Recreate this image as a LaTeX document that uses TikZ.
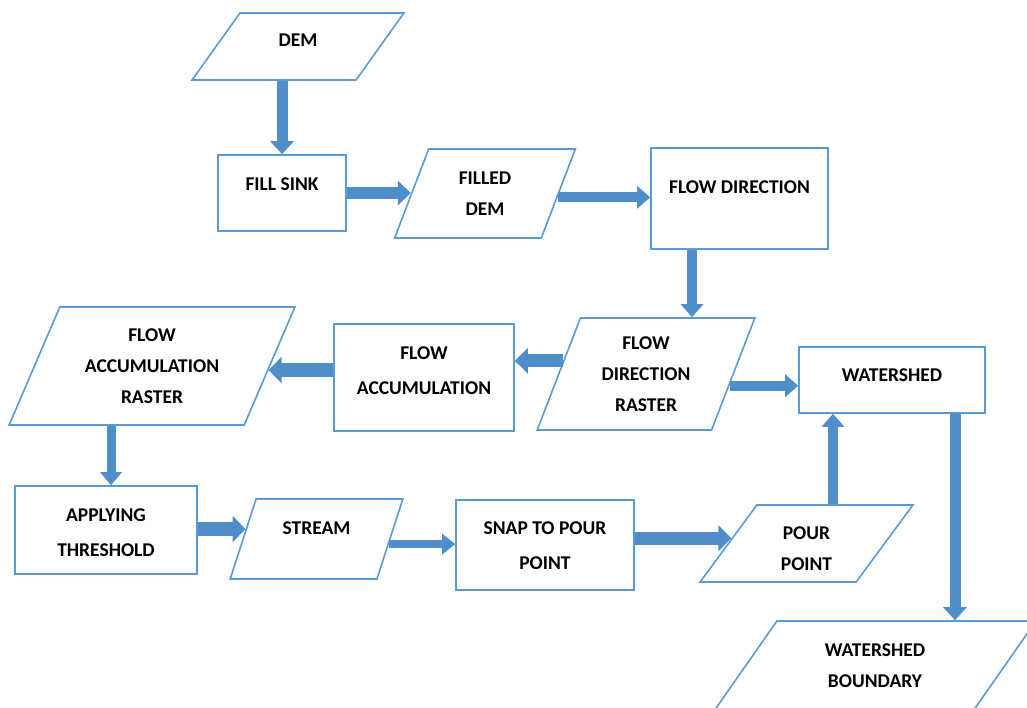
\documentclass[tikz,border=0pt]{standalone}
\usepackage{fontspec}
\setmainfont{Carlito}
\usetikzlibrary{arrows.meta,shapes.geometric}

\definecolor{boxblue}{HTML}{5B9BD5}
\definecolor{arrowblue}{HTML}{4F8DCB}

\begin{document}
\begin{tikzpicture}[
            x = 1pt, y = -1pt, % one unit per pixel, y pointing down
            every node/.style = {font=\bfseries\fontsize{19.5}{31}\selectfont, align=center, inner sep=0pt},
            proc/.style = {rectangle, draw=boxblue, line width=1.6pt, font=\bfseries\fontsize{19.5}{35}\selectfont},
            io/.style = {trapezium, trapezium stretches, trapezium left angle=#1,
                         trapezium right angle={180-#1}, draw=boxblue, line width=1.6pt},
            flow/.style = {draw=arrowblue, line width=#1, -{Triangle[length=13pt,width=12pt 1]}},
            lift/.style = {text depth=#1}, % label sits above the middle
            drop/.style = {text height=#1} % label sits below the middle
        ]

	\path[use as bounding box, clip] (0,0) rectangle (1027,707);

	\node[io=57, minimum width=212pt, minimum height=67pt, lift=12pt] (dem) at (298,46.5) {DEM};
	\node[proc, minimum width=128pt, minimum height=76pt, lift=18pt] (fill) at (282,193) {FILL SINK};
	\node[io=70, minimum width=182pt, minimum height=89pt] (filled) at (485,193.5) {FILLED\\DEM};
	\node[proc, minimum width=177pt, minimum height=101pt, lift=22pt] (flowdir) at (739.5,198.5) {FLOW DIRECTION};
	\node[io=68.6, minimum width=218pt, minimum height=112pt] (fdr) at (646,374) {FLOW\\DIRECTION\\RASTER};
	\node[proc, minimum width=186pt, minimum height=66pt, lift=10pt] (ws) at (892,380) {WATERSHED};
	\node[proc, minimum width=180pt, minimum height=107pt, lift=14pt] (fa) at (424,377.5) {FLOW\\ACCUMULATION};
	\node[io=63.8, minimum width=286pt, minimum height=118pt] (far) at (152,366) {FLOW\\ACCUMULATION\\RASTER};
	\node[proc, minimum width=182pt, minimum height=88pt, drop=53.6pt] (app) at (106,530) {APPLYING\\THRESHOLD};
	\node[io=67.3, minimum width=173pt, minimum height=80pt, lift=22pt] (stream) at (316.5,539) {STREAM};
	\node[proc, minimum width=178pt, minimum height=90pt, drop=49.6pt] (snap) at (545,545) {SNAP TO POUR\\POINT};
	\node[io=61.4, minimum width=213pt, minimum height=77pt, drop=53.6pt] (pour) at (806.5,543.5) {POUR\\POINT};
	\node[io=53.8, minimum width=322pt, minimum height=90pt] (wb) at (875,666) {WATERSHED\\BOUNDARY};

	% block arrows
	\draw[flow=11pt] (dem.south -| fill) -- (fill.north);
	\draw[flow=12pt] (fill.east) -- (fill.east -| filled.west);
	\draw[flow=10pt] (filled.-3) -- (filled.-3 -| flowdir.west);
	\draw[flow=10pt] ([xshift=-47.5pt]flowdir.south) -- ([xshift=-47.5pt]flowdir.south |- fdr.north);
	\draw[flow=13pt] (fdr.171) -- (fdr.171 -| fa.east);
	\draw[flow=14pt] (far.-2 -| fa.west) -- (far.-2);
	\draw[flow=9pt] ([xshift=5pt]app.north |- far.south) -- ([xshift=5pt]app.north);
	\draw[flow=14pt] (stream.172 -| app.east) -- (stream.172);
	\draw[flow=8pt] (stream.-4) -- (stream.-4 -| snap.west);
	\draw[flow=13pt] (pour.176 -| snap.east) -- (pour.176);
	\draw[flow=10pt] ([xshift=-59pt]ws.south |- pour.north) -- ([xshift=-59pt]ws.south);
	\draw[flow=10pt] (fdr.-8) -- (fdr.-8 -| ws.west);
	\draw[flow=11pt] ([xshift=63pt]ws.south) -- ([xshift=63pt]ws.south |- wb.north);
\end{tikzpicture}
\end{document}
